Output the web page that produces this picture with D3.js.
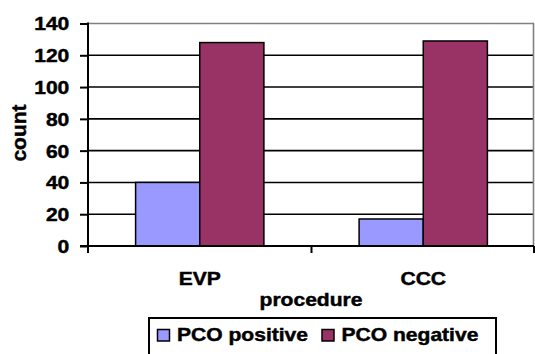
<!DOCTYPE html>
<html>
<head>
<meta charset="utf-8">
<script src="https://cdn.jsdelivr.net/npm/d3@7"></script>
<style>
  html, body { margin: 0; padding: 0; background: #fff; }
  svg { display: block; }
  text { font-family: "Liberation Sans", Arial, sans-serif; font-weight: bold; fill: #000; stroke: #000; stroke-width: 0.45px; }
</style>
</head>
<body>
<svg id="chart" width="535" height="354"></svg>
<script>
// Data
const categories = ["EVP", "CCC"];
const seriesNames = ["PCO positive", "PCO negative"];
const pcoPositive = [40, 17];
const pcoNegative = [128, 129];
const yTicks = [0, 20, 40, 60, 80, 100, 120, 140];
const xTitle = "procedure";
const yTitle = "count";

const colors = { "PCO positive": "#9999FF", "PCO negative": "#993366" };
const SX = 1.17; // horizontal text stretch
const FS = 18;

const svg = d3.select("#chart");
const plot = { left: 88, right: 535, top: 23.5, bottom: 246 };

const y = d3.scaleLinear().domain([0, 140]).range([plot.bottom, plot.top]);
const x0 = d3.scaleBand().domain(categories).range([plot.left, plot.right]).padding(0);
const x1 = d3.scaleBand().domain(seriesNames).range([0, x0.bandwidth()])
  .paddingInner(0).paddingOuter(0.742);

const rows = categories.map((c, i) => ({
  cat: c,
  values: [
    { name: seriesNames[0], value: pcoPositive[i] },
    { name: seriesNames[1], value: pcoNegative[i] }
  ]
}));

// Gridlines
svg.append("g")
  .selectAll("line")
  .data(yTicks.filter(t => t > 0 && t < 140))
  .join("line")
  .attr("x1", plot.left).attr("x2", plot.right - 1.5)
  .attr("y1", d => y(d)).attr("y2", d => y(d))
  .attr("stroke", "#000").attr("stroke-width", 1.6);

// Plot area top/right border
svg.append("path")
  .attr("d", `M${plot.left},${y(140)}H${plot.right - 1.5}V${plot.bottom}`)
  .attr("fill", "none").attr("stroke", "#808080").attr("stroke-width", 1.6);

// Bars
svg.append("g")
  .selectAll("g")
  .data(rows)
  .join("g")
  .attr("transform", d => `translate(${x0(d.cat)},0)`)
  .selectAll("rect")
  .data(d => d.values)
  .join("rect")
  .attr("x", d => x1(d.name))
  .attr("width", x1.bandwidth())
  .attr("y", d => y(d.value))
  .attr("height", d => y(0) - y(d.value))
  .attr("fill", d => colors[d.name])
  .attr("stroke", "#000").attr("stroke-width", 1.5);

// Y axis
const yAxis = svg.append("g")
  .attr("transform", `translate(${plot.left},0)`)
  .call(d3.axisLeft(y).tickValues(yTicks).tickSize(8).tickSizeOuter(0));
yAxis.select(".domain").remove();
yAxis.append("line")
  .attr("x1", 0).attr("x2", 0)
  .attr("y1", y(140) - 1).attr("y2", plot.bottom + 7)
  .attr("stroke", "#000").attr("stroke-width", 2);
yAxis.selectAll(".tick line").attr("stroke", "#000").attr("stroke-width", 2);
yAxis.selectAll(".tick text")
  .attr("x", -18.7 / SX)
  .attr("dy", "0.36em")
  .attr("transform", `scale(${SX},1)`)
  .style("font-size", FS + "px")
  .style("font-family", '"Liberation Sans", Arial, sans-serif')
  .style("font-weight", "bold")
  .attr("fill", "#000");

// X axis
const xAxis = svg.append("g")
  .attr("transform", `translate(0,${plot.bottom})`);
xAxis.append("line")
  .attr("x1", plot.left - 8).attr("x2", plot.right - 1)
  .attr("y1", 0).attr("y2", 0)
  .attr("stroke", "#000").attr("stroke-width", 2);
const boundaries = [plot.left, ...categories.slice(1).map(c => x0(c)), plot.right - 1];
xAxis.selectAll("line.tk")
  .data(boundaries)
  .join("line").attr("class", "tk")
  .attr("x1", d => d).attr("x2", d => d)
  .attr("y1", 0).attr("y2", 7)
  .attr("stroke", "#000").attr("stroke-width", 2);

function stretchedText(g, str, x, yy, anchor, size) {
  return g.append("text")
    .attr("transform", `translate(${x},${yy}) scale(${SX},1)`)
    .attr("text-anchor", anchor)
    .style("font-size", (size || FS) + "px")
    .text(str);
}

// Category labels
categories.forEach(c => {
  stretchedText(svg, c, x0(c) + x0.bandwidth() / 2, 285, "middle");
});

// Axis titles
stretchedText(svg, xTitle, 311, 305.5, "middle");
svg.append("text")
  .attr("transform", "translate(26,133) rotate(-90)")
  .attr("text-anchor", "middle")
  .style("font-size", "21px")
  .text(yTitle);

// Legend
const legend = svg.append("g");
legend.append("rect")
  .attr("x", 149).attr("y", 318)
  .attr("width", 347).attr("height", 50)
  .attr("fill", "#fff").attr("stroke", "#000").attr("stroke-width", 2);
const legendX = [157.5, 322];
seriesNames.forEach((s, i) => {
  legend.append("rect")
    .attr("x", legendX[i]).attr("y", 329.5)
    .attr("width", 12).attr("height", 11.5)
    .attr("fill", colors[s]).attr("stroke", "#000").attr("stroke-width", 1.5);
  stretchedText(legend, s, legendX[i] + 19.5, 341, "start");
});
</script>
</body>
</html>
